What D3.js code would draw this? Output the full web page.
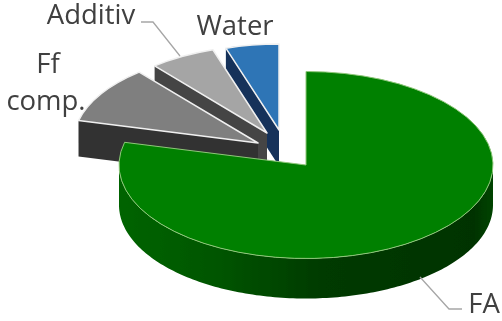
<!DOCTYPE html>
<html><head><meta charset="utf-8">
<script src="https://cdnjs.cloudflare.com/ajax/libs/d3/7.8.5/d3.min.js"></script>
<style>html,body{margin:0;padding:0;background:#fff}svg{display:block}text{font-family:"Open Sans",sans-serif;fill:#404040}</style>
</head><body><svg id="c" width="502" height="321"></svg>
<script>
const categories=["FA","Ff comp.","Additiv","Water"];
const values=[78.9,10,6.1,5];
const topColors=["#008000","#7f7f7f","#a5a5a5","#2e75b6"];
const wallColors=["#004b00","#333333","#444444","#12305a"];
const centers=[[306,165],[258,143],[267,133],[279,130]];
const radii=[187,185,175,172];
const tilt=0.5,depth=36,frontDepth=40;
const svg=d3.select("#c");
const defs=svg.append("defs");
defs.append("filter").attr("id","soft").append("feGaussianBlur").attr("stdDeviation",0.6);
const grad=defs.append("linearGradient").attr("id","wall").attr("gradientUnits","userSpaceOnUse")
  .attr("x1",119).attr("x2",493).attr("y1",0).attr("y2",0);
[[0,"#006400"],[0.25,"#005600"],[0.55,"#003a00"],[0.95,"#003300"],[1,"#004400"]].forEach(([o,c])=>grad.append("stop").attr("offset",o).attr("stop-color",c));
const pie=d3.pie().sort(null).value(d=>d)(values);
const g=svg.append("g").attr("filter","url(#soft)");
const pt=(i,a)=>[centers[i][0]+radii[i]*Math.sin(a),centers[i][1]-radii[i]*tilt*Math.cos(a)];
const line=d3.line();
// back to front
[3,2,1,0].forEach(i=>{
  const s=pie[i],[cx,cy]=centers[i];
  if(i===0){
    const pts=d3.range(Math.PI/2,3*Math.PI/2+0.001,0.02);
    const upper=pts.map(a=>pt(0,a));
    const lower=pts.map(a=>{const p=pt(0,a);return [p[0],p[1]+frontDepth]}).reverse();
    g.append("path").attr("d",line(upper.concat(lower))+"Z").attr("fill","url(#wall)");
  } else {
    const c=pt(i,s.startAngle);
    g.append("path").attr("d",line([[cx,cy],c,[c[0],c[1]+depth],[cx,cy+depth]])+"Z").attr("fill",wallColors[i]);
    g.append("rect").attr("x",cx-(i===1?2:3)).attr("y",cy).attr("width",i===1?2:3).attr("height",depth).attr("fill",wallColors[i]);
  }
  const arc=d3.arc().innerRadius(0).outerRadius(radii[i]);
  g.append("path").attr("d",arc(s))
    .attr("transform",`translate(${cx},${cy}) scale(1,${tilt})`)
    .attr("fill",topColors[i])
    .attr("stroke",i===0?"#8fc77a":"#f0f0f0").attr("stroke-width",i===0?1:1.5)
    .attr("vector-effect","non-scaling-stroke").attr("stroke-linejoin","round");
});
// leader lines
const leaders=[[[141,22],[153,22],[180,56]],[[420,277],[449,309],[462,309]]];
leaders.forEach(l=>svg.append("path").attr("d",line(l)).attr("fill","none").attr("stroke","#a6a6a6").attr("stroke-width",1.3));
// labels
const labels=[["Additiv",91,24],["Water",235,35],["Ff",48,73],["comp.",46,110],["FA",484,313]];
labels.forEach(([t,x,y])=>svg.append("text").attr("x",x).attr("y",y).attr("text-anchor","middle").attr("font-size",27.5).text(t));
</script></body></html>
